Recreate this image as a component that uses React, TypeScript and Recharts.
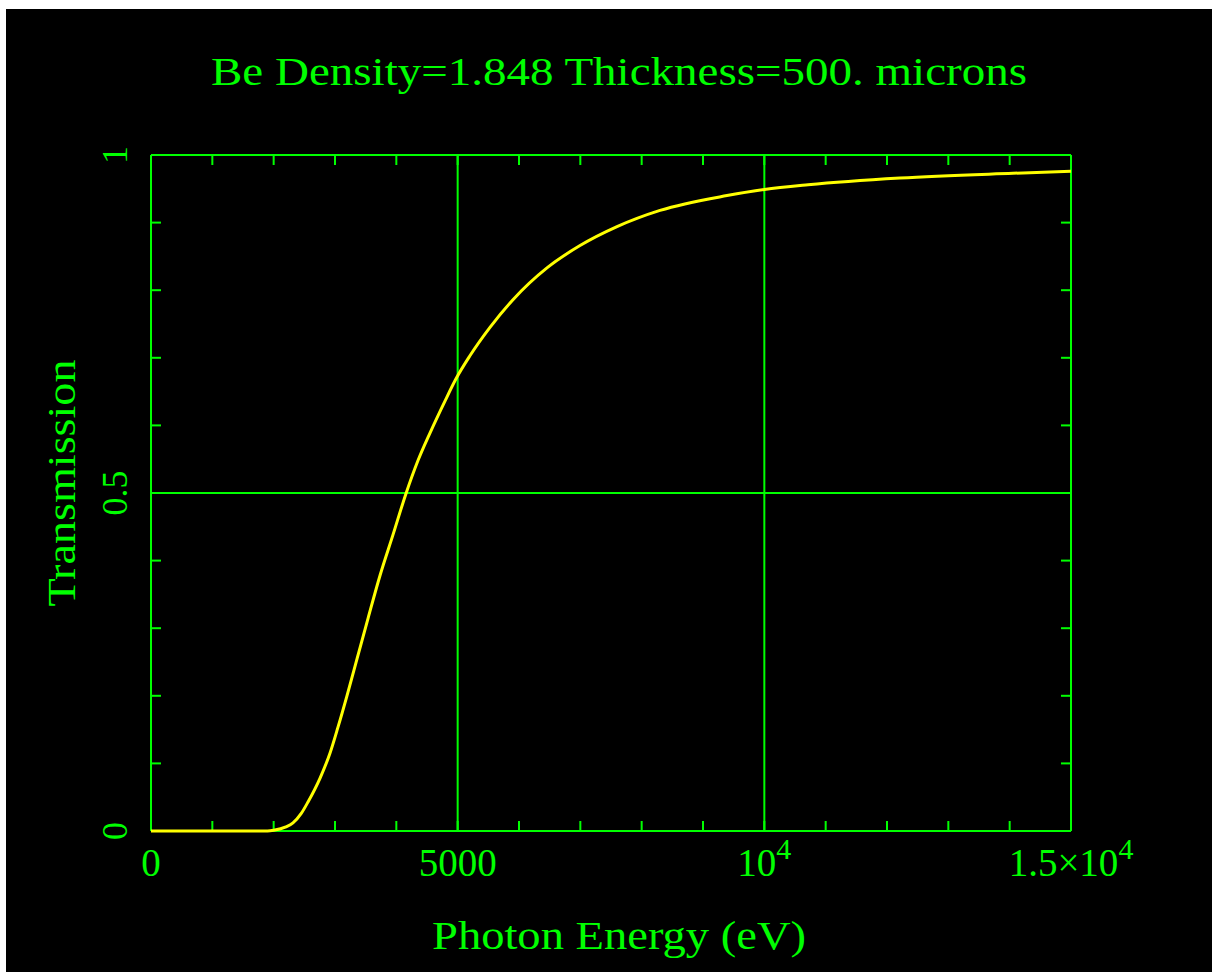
import React from 'react';
import { LineChart, Line, XAxis, YAxis, ReferenceLine } from 'recharts';

// ---- data ----
const energies = [0, 500, 1000, 1500, 1900, 2000, 2200, 2315, 2450, 2560, 2755, 2918, 3050, 3195, 3360, 3540, 3734, 3945, 4157, 4353, 4550, 4793, 4973, 5200, 5527, 5902, 6456, 6995, 7598, 8299, 9391, 10000, 10712, 12212, 14054, 15000];
const transmission = [0, 0, 0, 0, 0, 0.001, 0.006, 0.012, 0.026, 0.043, 0.078, 0.115, 0.154, 0.2, 0.255, 0.315, 0.378, 0.438, 0.499, 0.548, 0.589, 0.636, 0.669, 0.703, 0.745, 0.786, 0.833, 0.866, 0.894, 0.918, 0.94, 0.949, 0.956, 0.966, 0.973, 0.976];

const xMajorTicks = [0, 5000, 10000, 15000];
const xTickBase = ['0', '5000', '10', '1.5\u00D710'];
const xTickSup = ['', '', '4', '4'];
const xMinorTicks = [0, 1000, 2000, 3000, 4000, 5000, 6000, 7000, 8000, 9000, 10000, 11000, 12000, 13000, 14000, 15000];
const yMajorTicks = [0, 0.5, 1];
const yTickLabels = ['0', '0.5', '1'];
const yMinorTicks = [0, 0.1, 0.2, 0.3, 0.4, 0.5, 0.6, 0.7, 0.8, 0.9, 1];
const xGridValues = [5000, 10000];
const yGridValues = [0.5];
const xDomain = [0, 15000];
const yDomain = [0, 1];

const titleText = 'Be Density=1.848 Thickness=500. microns';
const xLabelText = 'Photon Energy (eV)';
const yLabelText = 'Transmission';

const data = energies.map((e, i) => ({ e, t: transmission[i] }));

// ---- styles ----
const GREEN = '#00ff00';
const YELLOW = '#ffff00';
const FONT = '"Liberation Serif", "DejaVu Serif", serif';
const W = 1206;
const H = 963;

const Empty = () => <g />;

const XTick = (props: any) => {
  const { x, y, payload } = props;
  const i = xMajorTicks.indexOf(payload.value);
  if (i < 0) return <g />;
  return (
    <text x={x} y={y + 45} textAnchor="middle" fill={GREEN} fontFamily={FONT} fontSize={39}>
      {xTickBase[i]}
      {xTickSup[i] ? (
        <tspan dy={-17} fontSize={30}>
          {xTickSup[i]}
        </tspan>
      ) : null}
    </text>
  );
};

const YTick = (props: any) => {
  const { x, y, payload } = props;
  const i = yMajorTicks.indexOf(payload.value);
  if (i < 0) return <g />;
  const bx = x - 24;
  return (
    <text
      x={bx}
      y={y}
      transform={`rotate(-90 ${bx} ${y})`}
      textAnchor="middle"
      fill={GREEN}
      fontFamily={FONT}
      fontSize={36}
    >
      {yTickLabels[i]}
    </text>
  );
};

const frameLine = { stroke: GREEN, strokeWidth: 2 };

const mirrorX = (id: string, orientation: 'top' | 'bottom') => (
  <XAxis
    key={id}
    xAxisId={id}
    orientation={orientation}
    mirror
    height={1}
    dataKey="e"
    type="number"
    domain={xDomain}
    allowDataOverflow
    ticks={xMinorTicks}
    interval={0}
    tickSize={10}
    tick={Empty}
    tickLine={frameLine}
    axisLine={frameLine}
  />
);

const mirrorY = (id: string, orientation: 'left' | 'right') => (
  <YAxis
    key={id}
    yAxisId={id}
    orientation={orientation}
    mirror
    width={1}
    type="number"
    domain={yDomain}
    allowDataOverflow
    ticks={yMinorTicks}
    interval={0}
    tickSize={10}
    tick={Empty}
    tickLine={frameLine}
    axisLine={frameLine}
  />
);

export default function App() {
  return (
    <div style={{ position: 'absolute', left: 6, top: 9, width: W, height: H, background: '#000' }}>
      <LineChart width={W} height={H} data={data} margin={{ top: 146, right: 141, left: 85, bottom: 81 }}>
        <XAxis
          xAxisId="x"
          dataKey="e"
          type="number"
          domain={xDomain}
          ticks={xMajorTicks}
          interval={0}
          height={60}
          tickLine={false}
          axisLine={false}
          tickSize={0}
          tickMargin={0}
          tick={XTick}
        />
        <YAxis
          yAxisId="y"
          type="number"
          domain={yDomain}
          ticks={yMajorTicks}
          interval={0}
          width={60}
          tickLine={false}
          axisLine={false}
          tickSize={0}
          tickMargin={0}
          tick={YTick}
        />
        {mirrorX('xb', 'bottom')}
        {mirrorX('xt', 'top')}
        {mirrorY('yl', 'left')}
        {mirrorY('yr', 'right')}
        {xGridValues.map((v) => (
          <ReferenceLine key={'gx' + v} xAxisId="x" yAxisId="y" x={v} stroke={GREEN} strokeWidth={2} />
        ))}
        {yGridValues.map((v) => (
          <ReferenceLine key={'gy' + v} xAxisId="x" yAxisId="y" y={v} stroke={GREEN} strokeWidth={2} />
        ))}
        {/* invisible series so the frame axes get a scale */}
        <Line
          xAxisId="xb"
          yAxisId="yl"
          dataKey="t"
          type="linear"
          stroke="none"
          dot={false}
          activeDot={false}
          legendType="none"
          isAnimationActive={false}
        />
        <Line
          xAxisId="xt"
          yAxisId="yr"
          dataKey="t"
          type="linear"
          stroke="none"
          dot={false}
          activeDot={false}
          legendType="none"
          isAnimationActive={false}
        />
        <Line
          xAxisId="x"
          yAxisId="y"
          dataKey="t"
          type="monotone"
          stroke={YELLOW}
          strokeWidth={3}
          dot={false}
          isAnimationActive={false}
          zIndex={600}
        />
      </LineChart>
      <svg
        width={W}
        height={H}
        style={{ position: 'absolute', left: 0, top: 0, pointerEvents: 'none' }}
      >
        <text
          x={613}
          y={76}
          textAnchor="middle"
          fill={GREEN}
          fontFamily={FONT}
          fontSize={39}
          textLength={816}
          lengthAdjust="spacingAndGlyphs"
        >
          {titleText}
        </text>
        <text
          x={613}
          y={940}
          textAnchor="middle"
          fill={GREEN}
          fontFamily={FONT}
          fontSize={39}
          textLength={374}
          lengthAdjust="spacingAndGlyphs"
        >
          {xLabelText}
        </text>
        <text
          x={69}
          y={474}
          transform="rotate(-90 69 474)"
          textAnchor="middle"
          fill={GREEN}
          fontFamily={FONT}
          fontSize={41}
          textLength={247}
          lengthAdjust="spacingAndGlyphs"
        >
          {yLabelText}
        </text>
      </svg>
    </div>
  );
}
